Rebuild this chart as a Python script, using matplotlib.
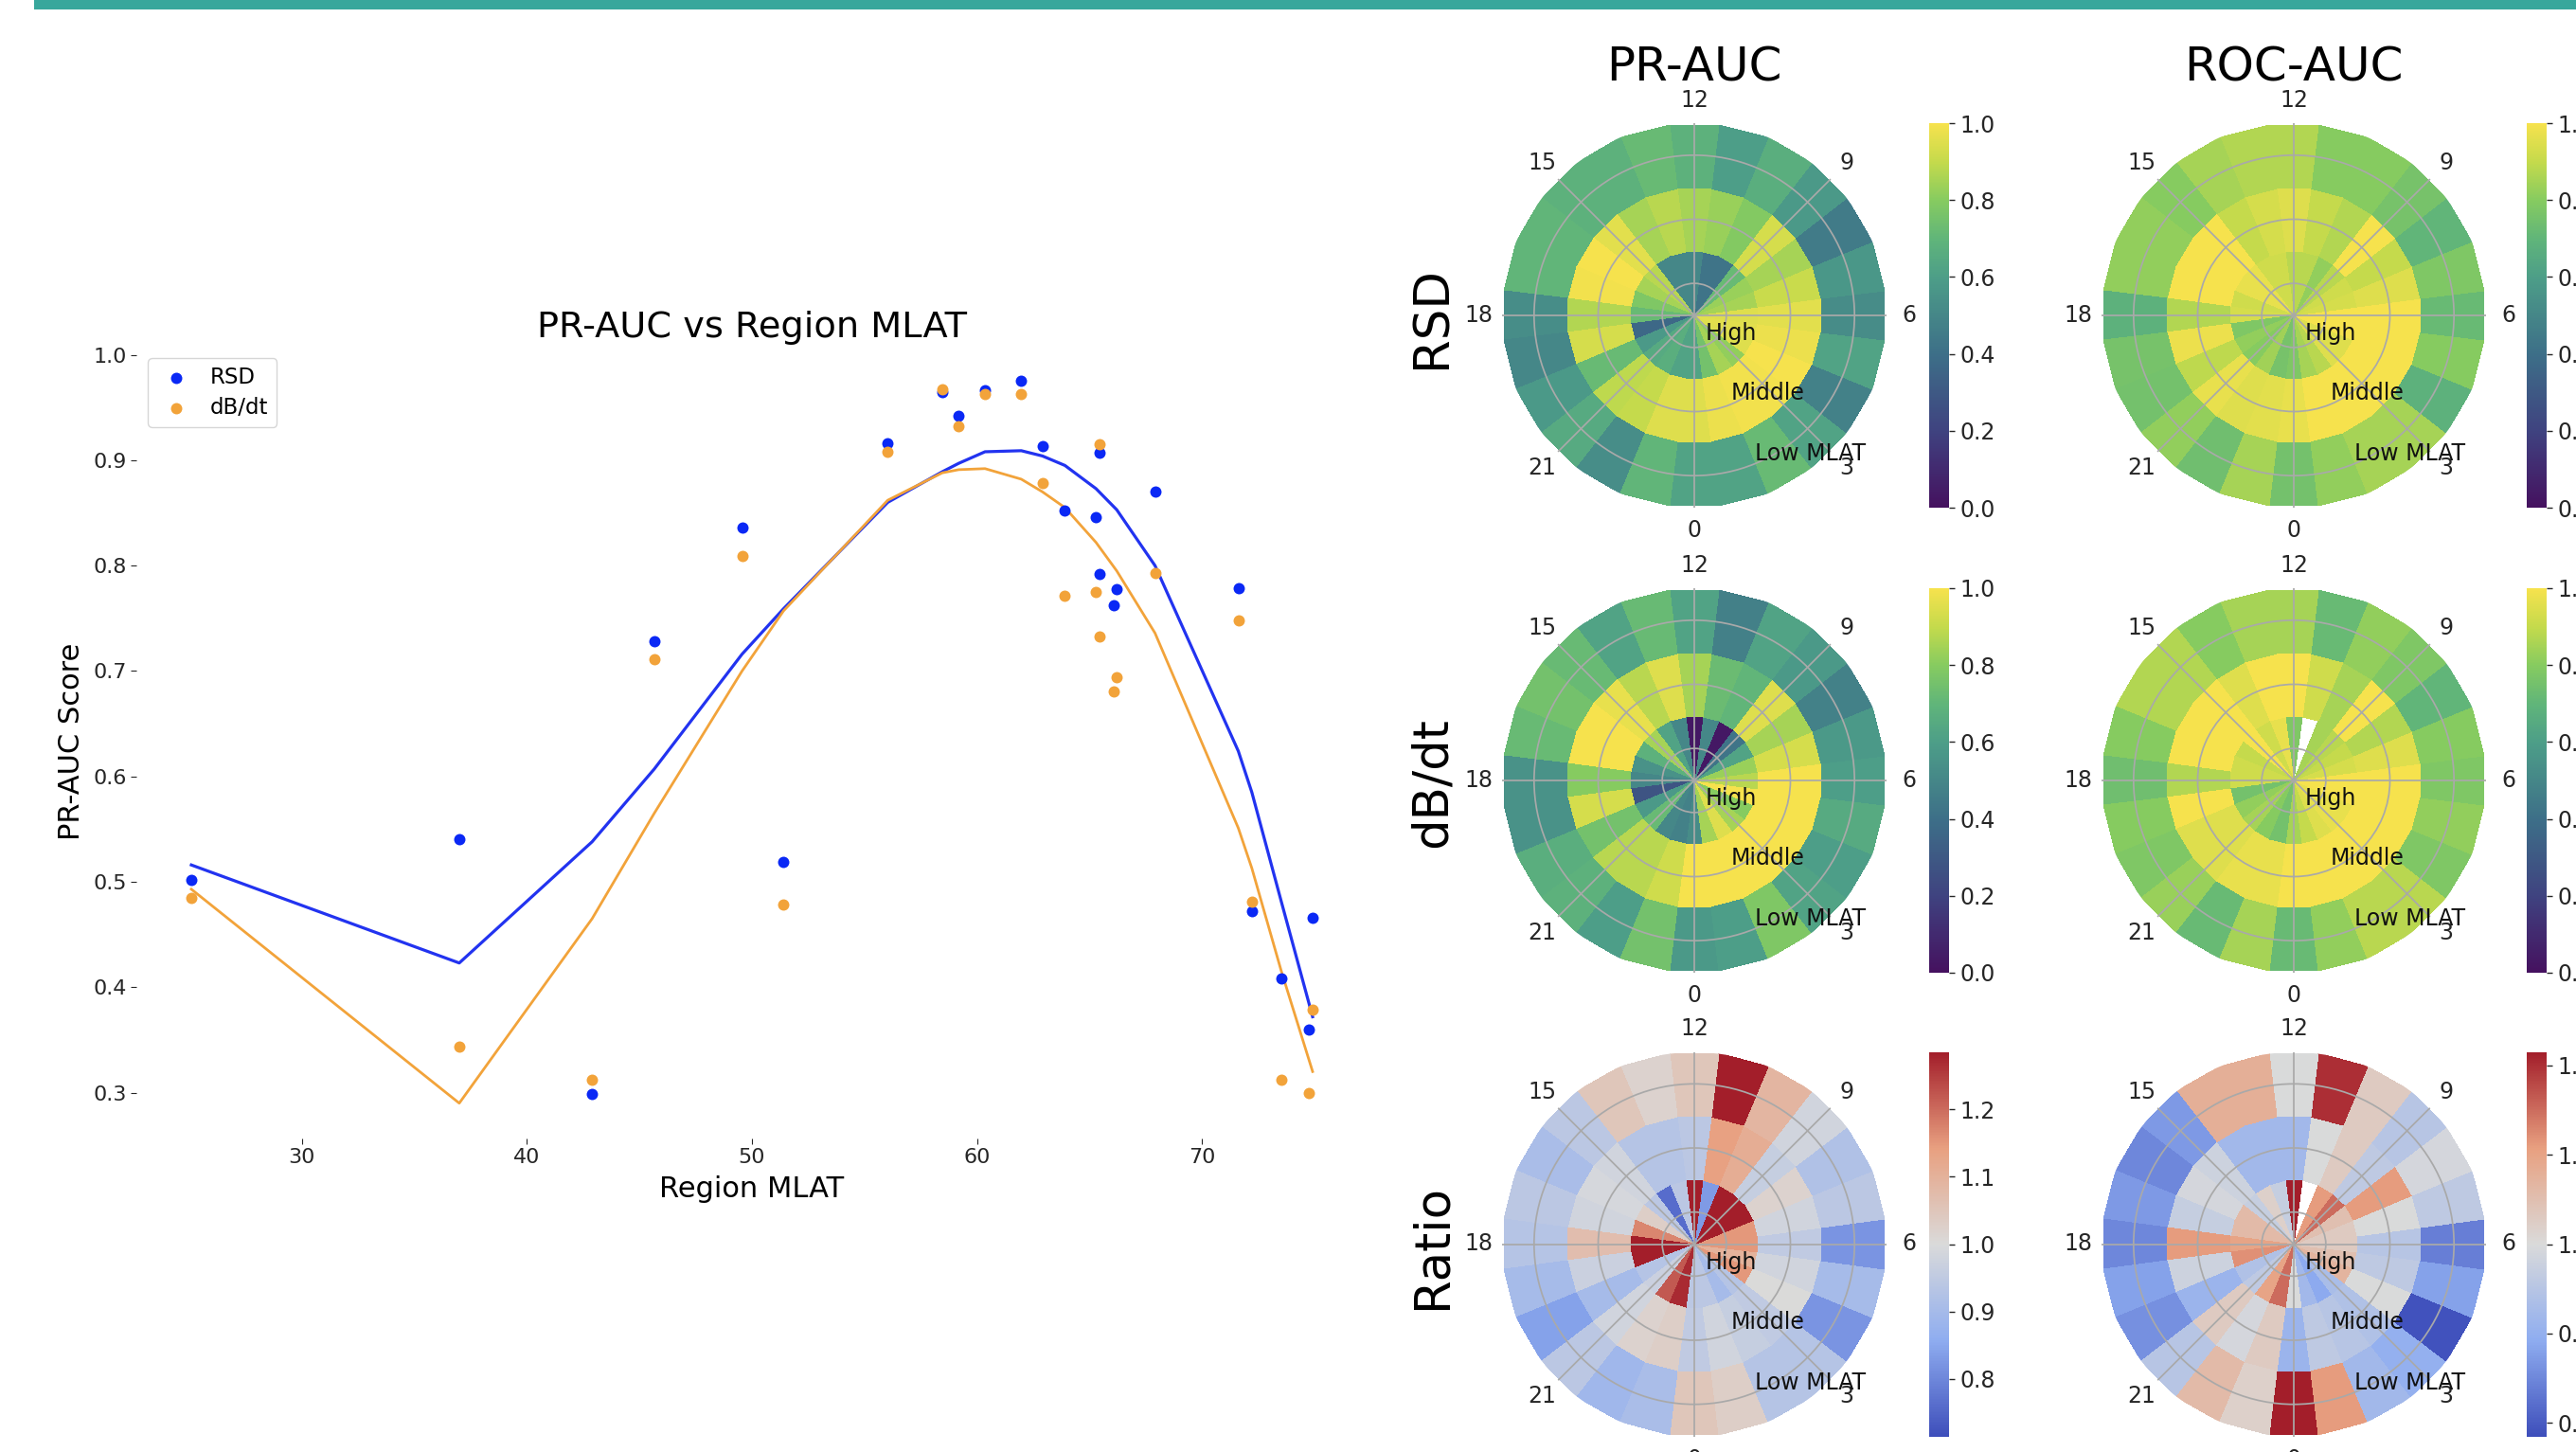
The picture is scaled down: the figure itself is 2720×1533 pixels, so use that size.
import numpy as np
import matplotlib
matplotlib.use("Agg")
import matplotlib.pyplot as plt
from matplotlib.colors import LinearSegmentedColormap
from matplotlib.patches import Rectangle

W, H = 2720, 1533

# ---------- scatter / trend data ----------
rsd_x = [25.1, 37.0, 42.9, 45.66, 49.56, 51.4, 56.03, 58.45, 59.18, 60.35, 61.96, 62.9, 63.9, 65.28, 65.43, 65.43, 66.06, 66.2, 67.9, 71.6, 72.2, 73.5, 74.75, 74.9]
rsd_y = [.502, .540, .2985, .728, .836, .519, .916, .965, .942, .966, .975, .913, .852, .846, .907, .792, .762, .778, .870, .779, .472, .408, .360, .466]
dbdt_y = [.485, .3435, .3126, .711, .809, .478, .908, .967, .932, .963, .963, .878, .771, .775, .915, .733, .681, .694, .793, .748, .481, .3126, .2994, .379]
trend_x = [25.1, 37.0, 42.9, 45.66, 49.56, 51.4, 56.03, 58.45, 59.18, 60.35, 61.96, 62.9, 63.9, 65.28, 66.2, 67.9, 71.6, 72.2, 73.5, 74.9]
trend_rsd = [.516, .423, .538, .607, .716, .759, .860, .889, .897, .908, .909, .904, .895, .873, .853, .800, .624, .585, .482, .372]
trend_dbdt = [.493, .290, .465, .565, .700, .757, .862, .888, .891, .892, .882, .870, .855, .822, .795, .736, .551, .513, .416, .320]

# ---------- polar data, hour 0..23 for each ring ----------
hours = list(range(24))
pr_rsd_high = [.62, .75, .85, .82, .95, .96, .95, .85, .83, .72, .42, .42, .50, .50, .50, .88, .85, .78, .72, .37, .58, .65, .67, .62]
pr_rsd_mid = [.95, .98, .99, .99, 1.0, .98, .96, .91, .85, .93, .79, .83, .85, .88, .85, .96, 1.0, .99, .87, .93, .72, .89, .90, .95]
pr_rsd_low = [.62, .62, .72, .62, .48, .62, .52, .57, .45, .58, .67, .60, .68, .72, .68, .68, .70, .70, .53, .50, .58, .65, .53, .70]

pr_db_high = [.52, .85, .95, .85, .80, 1.0, .88, .83, .62, .42, .03, .50, .03, .50, .62, .85, .68, .55, .50, .28, .58, .72, .50, .48]
pr_db_mid = [1.0, 1.0, 1.0, 1.0, 1.0, 1.0, 1.0, .93, .85, .95, .70, .73, .85, .95, .88, .97, 1.0, 1.0, .80, .93, .75, .88, .88, .92]
pr_db_low = [.58, .60, .78, .62, .60, .65, .60, .58, .48, .58, .62, .47, .62, .72, .62, .72, .75, .72, .55, .55, .67, .68, .60, .75]

roc_rsd_high = [.78, .85, .88, .95, .95, 1.0, 1.0, .93, .92, .88, .82, .88, .88, .92, .92, .97, .97, .92, .93, .78, .82, .80, .84, .76]
roc_rsd_mid = [.97, 1.0, 1.0, 1.0, 1.0, 1.0, 1.0, .95, .90, 1.0, .87, .90, .95, .93, .90, 1.0, 1.0, 1.0, .87, .98, .89, .97, .95, .96]
roc_rsd_low = [.75, .82, .85, .85, .68, .80, .72, .78, .70, .76, .80, .80, .87, .87, .85, .80, .82, .82, .68, .76, .75, .82, .74, .85]

roc_db_high = [.85, .90, .95, .97, .97, 1.0, 1.0, .93, .90, .88, .85, np.nan, .78, .97, .92, 1.0, .90, .92, .92, .75, .82, .85, .80, .75]
roc_db_mid = [1.0, 1.0, 1.0, 1.0, 1.0, 1.0, 1.0, .95, .87, 1.0, .85, .92, 1.0, 1.0, .95, 1.0, 1.0, 1.0, .87, 1.0, .95, .95, .97, .97]
roc_db_low = [.72, .82, .88, .88, .78, .82, .78, .80, .70, .78, .82, .72, .85, .85, .80, .87, .87, .80, .74, .80, .78, .83, .72, .85]

pr_ratio_high = [.94, .94, .90, .93, 1.15, 1.10, 1.15, 1.15, 1.29, 1.29, 1.29, .83, 1.29, .94, .76, .94, 1.03, 1.17, 1.29, 1.29, .93, .97, 1.22, 1.27]
pr_ratio_mid = [.95, .98, .96, .95, 1.0, .98, .95, .98, 1.02, .96, 1.11, 1.14, .94, .93, .93, .98, .99, .98, 1.07, .97, .90, .98, 1.02, 1.03]
pr_ratio_low = [1.05, 1.03, .93, .93, .82, .90, .82, .94, .92, .98, 1.09, 1.29, 1.05, 1.02, 1.05, .94, .91, .94, .93, .90, .84, .94, .89, .91]

roc_ratio_high = [1.0, .92, .89, .93, 1.07, 1.05, 1.03, 1.03, 1.05, 1.15, 1.11, np.nan, 1.22, .97, 1.02, .97, 1.06, 1.06, 1.10, 1.12, .94, .96, 1.10, 1.15]
roc_ratio_mid = [.91, .96, .95, .94, 1.0, .96, .95, 1.0, 1.11, .96, 1.03, 1.0, .92, .92, .92, .98, .99, .97, 1.11, .98, .91, 1.03, .99, 1.03]
roc_ratio_low = [1.22, 1.11, .92, .90, .79, .88, .84, .96, .99, .95, 1.03, 1.20, 1.0, 1.08, 1.08, .87, .85, .87, .85, .88, .86, .95, 1.06, 1.02]

clock_ticks = [0, 3, 6, 9, 12, 15, 18, 21]
ring_edges = [0, 1, 2, 3]
ring_grid = [0.5, 1.5, 2.5]
ring_text = ["High", "Middle", "Low MLAT"]
unit_ticks = [0.0, 0.2, 0.4, 0.6, 0.8, 1.0]
ratio_ticks = [0.8, 0.9, 1.0, 1.1, 1.2]
y_ticks = [0.3, 0.4, 0.5, 0.6, 0.7, 0.8, 0.9, 1.0]
x_ticks = [30, 40, 50, 60, 70]

TXT = "#262626"
BLUE = "#0a28f5"
ORANGE = "#f2a33a"
GRID = "#a9a9a9"

muted_viridis = LinearSegmentedColormap.from_list(
    "muted_viridis",
    [(0.0, "#45115f"), (0.2, "#3f4380"), (0.4, "#3d6f88"), (0.6, "#4d9e88"), (0.7, "#60b57a"),
     (0.8, "#86cb60"), (0.9, "#c4da4c"), (1.0, "#f6e24d")])
muted_coolwarm = LinearSegmentedColormap.from_list(
    "muted_coolwarm", ["#3e4fbb", "#8fadf0", "#dadada", "#e8a080", "#a31e2a"])


def box(x0, y0, x1, y1):
    """pixel box (top-left origin) to figure fraction rectangle"""
    return [x0 / W, 1 - y1 / H, (x1 - x0) / W, (y1 - y0) / H]


fig = plt.figure(figsize=(W / 100, H / 100), dpi=100, facecolor="white")
fig.add_artist(Rectangle((36 / W, 1 - 10 / H), 1 - 36 / W, 10 / H, transform=fig.transFigure,
                         facecolor="#38a79c", edgecolor="none"))

# ---------- left plot ----------
ax = fig.add_axes(box(144, 364, 1444, 1202))
ax.scatter(rsd_x, rsd_y, s=74, color=BLUE, label="RSD", zorder=3, linewidths=0)
ax.scatter(rsd_x, dbdt_y, s=74, color=ORANGE, label="dB/dt", zorder=3, linewidths=0)
ax.plot(trend_x, trend_rsd, color="#2233f0", lw=2.3, zorder=2)
ax.plot(trend_x, trend_dbdt, color=ORANGE, lw=2.0, zorder=2)
ax.set_xlim(22.66, 77.34)
ax.set_ylim(0.2565, 1.0095)
ax.set_xticks(x_ticks)
ax.set_yticks(y_ticks)
ax.tick_params(labelsize=16, colors=TXT, length=4, width=0.8)
ax.tick_params(axis="x", pad=3)
ax.tick_params(axis="y", pad=3.4)
for s in ax.spines.values():
    s.set_visible(False)
ax.set_title("PR-AUC vs Region MLAT", fontsize=27.5, pad=6)
ax.set_xlabel("Region MLAT", fontsize=22, labelpad=6.5)
ax.set_ylabel("PR-AUC Score", fontsize=22, labelpad=5.6)
ax.legend(loc="upper left", bbox_to_anchor=((156 - 144) / 1300, 1 - (378 - 364) / 838), fontsize=16.5,
          borderaxespad=0, handletextpad=0.6, labelspacing=0.42, borderpad=0.38, handlelength=1.9)

# ---------- polar panels ----------
theta_edges = np.deg2rad((np.arange(25) - 0.5) * 15)
r_edges = np.array(ring_edges, dtype=float)
centres_x = [1789, 2422]
centres_y = [333, 824, 1313.5]
R = 203
cbar_x = [(2037, 2058), (2668, 2689)]

panels = [
    [[pr_rsd_high, pr_rsd_mid, pr_rsd_low], [roc_rsd_high, roc_rsd_mid, roc_rsd_low]],
    [[pr_db_high, pr_db_mid, pr_db_low], [roc_db_high, roc_db_mid, roc_db_low]],
    [[pr_ratio_high, pr_ratio_mid, pr_ratio_low], [roc_ratio_high, roc_ratio_mid, roc_ratio_low]],
]
styles = [
    [(muted_viridis, 0, 1, unit_ticks)] * 2,
    [(muted_viridis, 0, 1, unit_ticks)] * 2,
    [(muted_coolwarm, 0.715, 1.285, ratio_ticks), (muted_coolwarm, 0.785, 1.215, ratio_ticks)],
]
col_titles = ["PR-AUC", "ROC-AUC"]
row_titles = ["RSD", "dB/dt", "Ratio"]

for i, cy in enumerate(centres_y):
    for j, cx in enumerate(centres_x):
        pax = fig.add_axes(box(cx - R, cy - R, cx + R, cy + R), projection="polar")
        cmap, vmin, vmax, ticks = styles[i][j]
        grid = np.ma.masked_invalid(np.array(panels[i][j], dtype=float))
        mesh = pax.pcolormesh(theta_edges, r_edges, grid, cmap=cmap, vmin=vmin, vmax=vmax, shading="flat")
        pax.set_theta_zero_location("S")
        pax.set_theta_direction(1)
        pax.set_xlim(0, 2 * np.pi)
        pax.set_ylim(0, 3)
        pax.set_xticks(np.deg2rad(np.array(clock_ticks) * 15))
        pax.set_xticklabels([str(h) for h in clock_ticks])
        pax.set_yticks(ring_grid)
        pax.set_yticklabels([])
        pax.tick_params(axis="x", labelsize=17, colors=TXT, pad=7)
        pax.grid(True, color=GRID, lw=1.25)
        pax.spines["polar"].set_visible(False)
        for label, (tx, ty) in zip(ring_text, [(0.596, 0.453), (0.692, 0.298), (0.803, 0.14)]):
            pax.text(tx, ty, label, transform=pax.transAxes, fontsize=17, ha="center", va="center",
                     color="#111111", zorder=5)
        c0, c1 = cbar_x[j]
        cax = fig.add_axes(box(c0, cy - R, c1, cy + R))
        cb = fig.colorbar(mesh, cax=cax, ticks=ticks)
        cb.outline.set_visible(False)
        cax.tick_params(labelsize=17, colors=TXT, length=4, width=1, pad=4)
        if i == 0:
            fig.text(cx / W, 1 - 71 / H, col_titles[j], fontsize=36, ha="center", va="center")
    fig.text(1513 / W, 1 - (cy + 2) / H, row_titles[i], fontsize=37, rotation=90, ha="center", va="center")

fig.savefig("out.png", dpi=100)
